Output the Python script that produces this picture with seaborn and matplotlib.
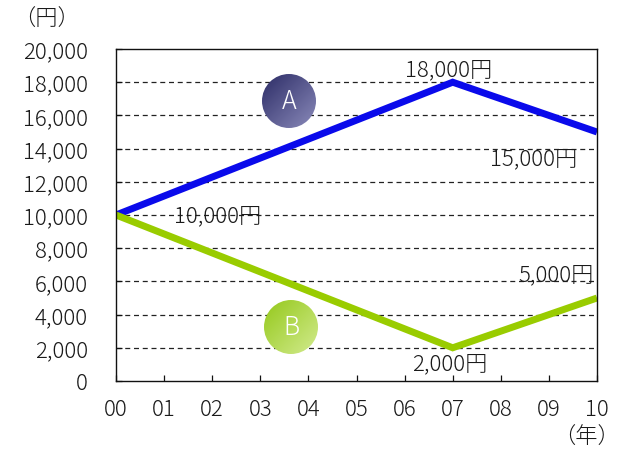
import numpy as np
import pandas as pd
import matplotlib
matplotlib.use("Agg")
import matplotlib.pyplot as plt
from matplotlib.patches import Circle
from matplotlib.colors import LinearSegmentedColormap
import seaborn as sns

# --- data ---
year_labels = ["00", "01", "02", "03", "04", "05", "06", "07", "08", "09", "10"]
years = [0, 7, 10]
series_a = [10000, 18000, 15000]
series_b = [10000, 2000, 5000]
y_ticks = list(range(0, 20001, 2000))

sns.set_theme(style="white")
plt.rcParams["font.family"] = ["Noto Sans CJK JP", "DejaVu Sans"]
plt.rcParams["font.weight"] = "light"

FS = 16
TXT = "#1a1a1a"

df = pd.DataFrame({
    "year": years * 2,
    "value": series_a + series_b,
    "series": ["A"] * len(years) + ["B"] * len(years),
})

fig = plt.figure(figsize=(6.22, 4.52), dpi=100)
ax = fig.add_axes([116 / 622, 1 - 382 / 452, 481 / 622, 332 / 452])

sns.lineplot(data=df, x="year", y="value", hue="series",
             palette={"A": "#0a0aeb", "B": "#99cc00"},
             linewidth=5.0, legend=False, ax=ax,
             solid_capstyle="butt", solid_joinstyle="miter")

ax.set_xlim(0, 10)
ax.set_ylim(0, 20000)
ax.set_xticks(range(len(year_labels)))
ax.set_xticklabels(year_labels)
ax.set_yticks(y_ticks)
ax.set_yticklabels([f"{v:,}" for v in y_ticks])
ax.set_xlabel("")
ax.set_ylabel("")

for v in y_ticks[1:-1]:
    ax.axhline(v, color="#222222", lw=0.9, ls=(0, (4, 3)), zorder=0.5)

for s in ax.spines.values():
    s.set_color("#111111")
    s.set_linewidth(1.0)

ax.tick_params(axis="both", direction="in", length=4.5, width=0.9,
               color="#111111", labelsize=FS, labelcolor=TXT)
ax.tick_params(axis="y", pad=20, left=True)
ax.tick_params(axis="x", pad=12, bottom=True)

# value labels
lab_kw = dict(fontsize=FS, color=TXT)
ax.text(1.2, series_a[0], f"{series_a[0]:,}円", ha="left", va="center", **lab_kw)
ax.text(6.92, 18800, f"{series_a[1]:,}円", ha="center", va="center", **lab_kw)
ax.text(8.69, 13400, f"{series_a[2]:,}円", ha="center", va="center", **lab_kw)
ax.text(9.15, 6450, f"{series_b[2]:,}円", ha="center", va="center", **lab_kw)
ax.text(6.94, 1080, f"{series_b[1]:,}円", ha="center", va="center", **lab_kw)

# unit labels
ax.text(-0.145, 1.09, "（円）", transform=ax.transAxes, ha="center", va="center",
        fontsize=FS, color=TXT)
ax.text(1.048, -0.169, "（年）", transform=ax.transAxes, ha="right", va="center",
        fontsize=FS, color=TXT)


def badge(cx, cy, r, c0, c1, letter):
    bax = fig.add_axes([(cx - r) / 622, 1 - (cy + r) / 452, 2 * r / 622, 2 * r / 452])
    bax.set_xlim(0, 1)
    bax.set_ylim(0, 1)
    bax.axis("off")
    gx, gy = np.meshgrid(np.linspace(0, 1, 120), np.linspace(1, 0, 120))
    grad = (gx + (1 - gy)) / 2
    cmap = LinearSegmentedColormap.from_list("g", [c0, c1])
    im = bax.imshow(grad, cmap=cmap, extent=(0, 1, 0, 1), origin="upper",
                    interpolation="bilinear")
    circ = Circle((0.5, 0.5), 0.5, transform=bax.transData, facecolor="none",
                  edgecolor="none")
    bax.add_patch(circ)
    im.set_clip_path(circ)
    bax.text(0.5, 0.5, letter, ha="center", va="center", color="white",
             fontsize=18, fontweight="light")


badge(289, 102, 27, "#2c2c66", "#8a8aba", "A")
badge(291, 328, 27, "#94c81a", "#d2eb8e", "B")

fig.savefig("out.png", dpi=100)
